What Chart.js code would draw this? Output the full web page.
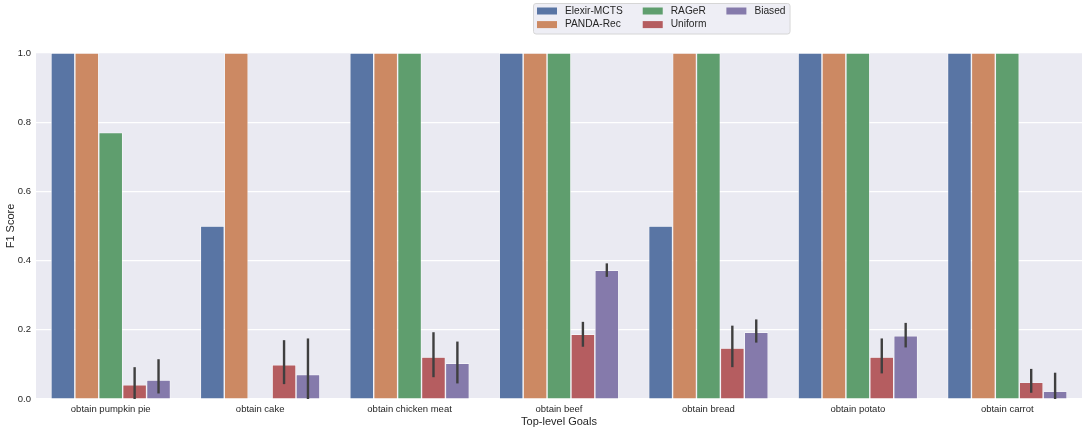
<!DOCTYPE html>
<html>
<head>
<meta charset="utf-8">
<title>F1 Score by Top-level Goal</title>
<script src="https://cdn.jsdelivr.net/npm/chart.js@4.4.1/dist/chart.umd.min.js"></script>
<style>
  html, body { margin: 0; padding: 0; background: #ffffff; }
  #wrap { width: 1084px; height: 429px; position: relative; }
</style>
</head>
<body>
<div id="wrap"><canvas id="myChart"></canvas></div>
<script>
// goals on the x axis
var goals = ['obtain pumpkin pie', 'obtain cake', 'obtain chicken meat', 'obtain beef',
             'obtain bread', 'obtain potato', 'obtain carrot'];

// F1 scores per method
var elexirMcts = [1.0, 0.5, 1.0, 1.0, 0.5, 1.0, 1.0];
var pandaRec   = [1.0, 1.0, 1.0, 1.0, 1.0, 1.0, 1.0];
var rager      = [0.77, 0.0, 1.0, 1.0, 1.0, 1.0, 1.0];
var uniform    = [0.041, 0.099, 0.121, 0.187, 0.147, 0.121, 0.048];
var biased     = [0.055, 0.071, 0.103, 0.372, 0.193, 0.183, 0.022];

// error bar ranges (low / high)
var uniformLow  = [0.0, 0.043, 0.063, 0.151, 0.092, 0.074, 0.018];
var uniformHigh = [0.092, 0.170, 0.193, 0.223, 0.212, 0.175, 0.087];
var biasedLow   = [0.016, 0.0, 0.045, 0.353, 0.163, 0.149, 0.0];
var biasedHigh  = [0.115, 0.175, 0.166, 0.392, 0.230, 0.220, 0.076];

var yTicks = [0.0, 0.2, 0.4, 0.6, 0.8, 1.0];

var FONT = '"Liberation Sans", Arial, sans-serif';
var TEXT = '#262626';

// draws the vertical error lines on top of the bars
var errorBarPlugin = {
    id: 'errorBars',
    afterDatasetsDraw: function (chart) {
        var ctx = chart.ctx;
        var yScale = chart.scales.y;
        var area = chart.chartArea;
        ctx.save();
        ctx.beginPath();
        ctx.rect(area.left, area.top, area.right - area.left, area.bottom - area.top);
        ctx.clip();
        ctx.strokeStyle = '#3f3f3f';
        ctx.lineWidth = 2.4;
        chart.data.datasets.forEach(function (ds, di) {
            if (!ds.errLow) return;
            var meta = chart.getDatasetMeta(di);
            meta.data.forEach(function (bar, i) {
                var y1 = yScale.getPixelForValue(ds.errLow[i]);
                var y2 = yScale.getPixelForValue(ds.errHigh[i]);
                ctx.beginPath();
                ctx.moveTo(bar.x, y1);
                ctx.lineTo(bar.x, y2);
                ctx.stroke();
            });
        });
        ctx.restore();
    }
};

// legend in three columns, filled top to bottom like matplotlib ncol=3
var columnLegendPlugin = {
    id: 'columnLegend',
    afterDraw: function (chart) {
        var ctx = chart.ctx;
        var ds = chart.data.datasets;
        var fontSize = 10.2;
        var left = 533, top = 3;
        var rowH = 13.6, pad = 4, handle = 20, textPad = 8, colGap = 20;
        ctx.save();
        ctx.font = fontSize + 'px ' + FONT;
        var cols = [];
        for (var c = 0; c * 2 < ds.length; c++) {
            var items = ds.slice(c * 2, c * 2 + 2);
            var w = 0;
            items.forEach(function (d) { w = Math.max(w, ctx.measureText(d.label).width); });
            cols.push({ items: items, w: w });
        }
        var total = pad;
        cols.forEach(function (col, i) { total += handle + textPad + col.w + (i < cols.length - 1 ? colGap : 0); });
        total += pad;
        var h = 30.5;
        ctx.fillStyle = '#eeeef5';
        ctx.strokeStyle = '#d6d6d6';
        ctx.lineWidth = 1;
        ctx.beginPath();
        ctx.roundRect(left + 0.5, top + 0.5, total, h, 2.5);
        ctx.fill();
        ctx.stroke();
        var x = left + pad;
        cols.forEach(function (col) {
            col.items.forEach(function (d, r) {
                var cy = top + 8 + r * rowH;
                ctx.fillStyle = d.backgroundColor;
                ctx.fillRect(x, cy - 3.5, handle, 7);
                ctx.fillStyle = TEXT;
                ctx.textBaseline = 'middle';
                ctx.textAlign = 'left';
                ctx.fillText(d.label, x + handle + textPad, cy);
            });
            x += handle + textPad + col.w + colGap;
        });
        ctx.restore();
    }
};

// plot background
var bgPlugin = {
    id: 'plotBg',
    beforeDraw: function (chart) {
        var a = chart.chartArea;
        chart.ctx.save();
        chart.ctx.fillStyle = '#eaeaf2';
        chart.ctx.fillRect(a.left, a.top, a.right - a.left, a.bottom - a.top);
        chart.ctx.restore();
    }
};

function bars(label, values, color, low, high) {
    var d = {
        label: label,
        data: values,
        backgroundColor: color,
        borderColor: 'rgba(255,255,255,0.9)',
        borderWidth: 0.7,
        categoryPercentage: 0.8,
        barPercentage: 1.0
    };
    if (low) { d.errLow = low; d.errHigh = high; }
    return d;
}

document.addEventListener('DOMContentLoaded', function () {
    var ctx = document.getElementById('myChart').getContext('2d');
    new Chart(ctx, {
        type: 'bar',
        data: {
            labels: goals,
            datasets: [
                bars('Elexir-MCTS', elexirMcts, '#5975a4'),
                bars('PANDA-Rec', pandaRec, '#cc8963'),
                bars('RAGeR', rager, '#5f9e6e'),
                bars('Uniform', uniform, '#b55d60', uniformLow, uniformHigh),
                bars('Biased', biased, '#857aab', biasedLow, biasedHigh)
            ]
        },
        options: {
            responsive: true,
            maintainAspectRatio: false,
            animation: false,
            layout: { padding: { top: 53, right: 2, left: 0, bottom: 0 } },
            plugins: {
                legend: { display: false },
                tooltip: { enabled: false }
            },
            scales: {
                x: {
                    grid: { display: false, drawTicks: false },
                    border: { display: false },
                    ticks: { color: TEXT, padding: 5, font: { family: FONT, size: 9.5 }, maxRotation: 0 },
                    title: { display: true, text: 'Top-level Goals', color: TEXT,
                             font: { family: FONT, size: 11 }, padding: { top: 1.5, bottom: 0 } },
                    afterFit: function (s) { s.height = 30; }
                },
                y: {
                    min: 0,
                    max: 1,
                    afterBuildTicks: function (s) { s.ticks = yTicks.map(function (v) { return { value: v }; }); },
                    grid: { color: '#ffffff', lineWidth: 1.2, drawTicks: false },
                    border: { display: false },
                    ticks: { color: TEXT, padding: 5, font: { family: FONT, size: 9.5 },
                             callback: function (v) { return v.toFixed(1); } },
                    title: { display: true, text: 'F1 Score', color: TEXT,
                             font: { family: FONT, size: 11 }, padding: { top: 4.4, bottom: 0 } },
                    afterFit: function (s) { s.width = 36; }
                }
            }
        },
        plugins: [bgPlugin, errorBarPlugin, columnLegendPlugin]
    });
});
</script>
</body>
</html>
